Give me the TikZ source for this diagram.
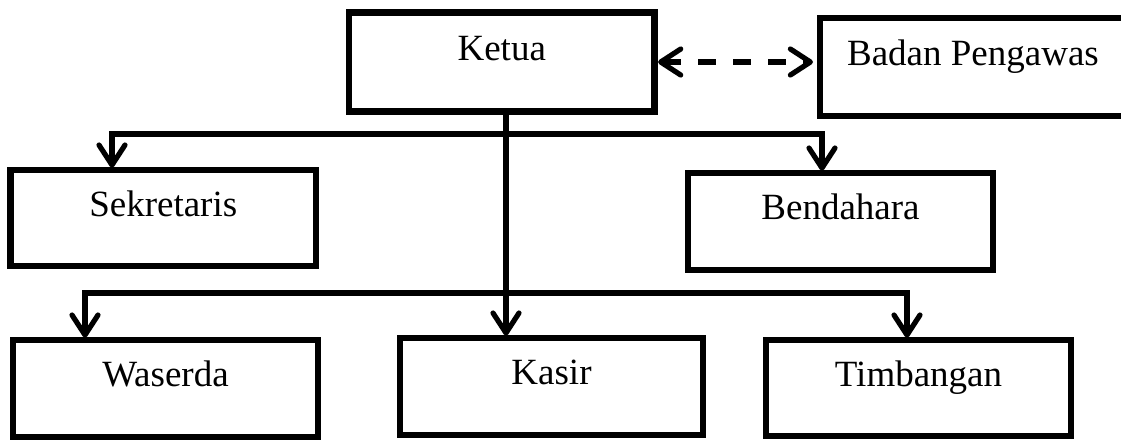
\documentclass[tikz,border=0pt]{standalone}
\usepackage{fontspec}
\setmainfont{Liberation Serif}
\usetikzlibrary{arrows.meta}
\begin{document}
\begin{tikzpicture}[x=0.5pt,y=-0.5pt,
  box/.style={draw, line width=3.3pt, inner sep=0pt, outer sep=0pt,
    font=\fontsize{18.5}{22}\selectfont, text height=13pt, text depth=15pt,
    line join=miter},
  conn/.style={line width=2.6pt, line join=miter},
  arr/.style={-{Straight Barb[length=10pt,width=13pt,round]}, shorten >=1.2pt}]
\useasboundingbox (0,0) rectangle (1121,441);
\fill[white] (0,0) rectangle (1121,441);
\clip (0,0) rectangle (1121,441);
% boxes
\node[box, minimum width=152.75pt, minimum height=49.5pt] (ketua) at (501.75,62) {Ketua};
\node[box, minimum width=153pt, minimum height=49pt] (badan) at (973,67) {Badan Pengawas};
\node[box, minimum width=152.75pt, minimum height=48pt] (sek) at (163.25,218) {Sekretaris};
\node[box, minimum width=152.5pt, minimum height=48.5pt] (bend) at (840.5,221.5) {Bendahara};
\node[box, minimum width=152.5pt, minimum height=48.5pt] (wase) at (165.5,388.5) {Waserda};
\node[box, minimum width=151.5pt, minimum height=48.5pt] (kasir) at (551.5,386.5) {Kasir};
\node[box, minimum width=152.5pt, minimum height=48pt] (timb) at (918.5,388) {Timbangan};
% junction coordinates
\coordinate (kt) at (506,0);
\coordinate (k1) at (506,134);
\coordinate (sL) at (112,134);
\coordinate (bR) at (822,134);
\coordinate (k2) at (506,293);
\coordinate (wL) at (85,293);
\coordinate (tR) at (907,293);
% connectors
\draw[conn, arr] (ketua.south -| kt) -- (kasir.north -| kt);
\draw[conn, arr] (k1) -| (sek.north -| sL);
\draw[conn, arr] (k1) -| (bend.north -| bR);
\draw[conn, arr] (k2) -| (wase.north -| wL);
\draw[conn, arr] (k2) -| (timb.north -| tR);
% dashed double arrow
\draw[conn, dash pattern=on 9pt off 8.5pt,
  {Straight Barb[length=10pt,width=13pt,round]}-{Straight Barb[length=10pt,width=13pt,round]},
  shorten <=1.8pt, shorten >=3.5pt] (ketua.east) -- (ketua.east -| badan.west);
\end{tikzpicture}
\end{document}
